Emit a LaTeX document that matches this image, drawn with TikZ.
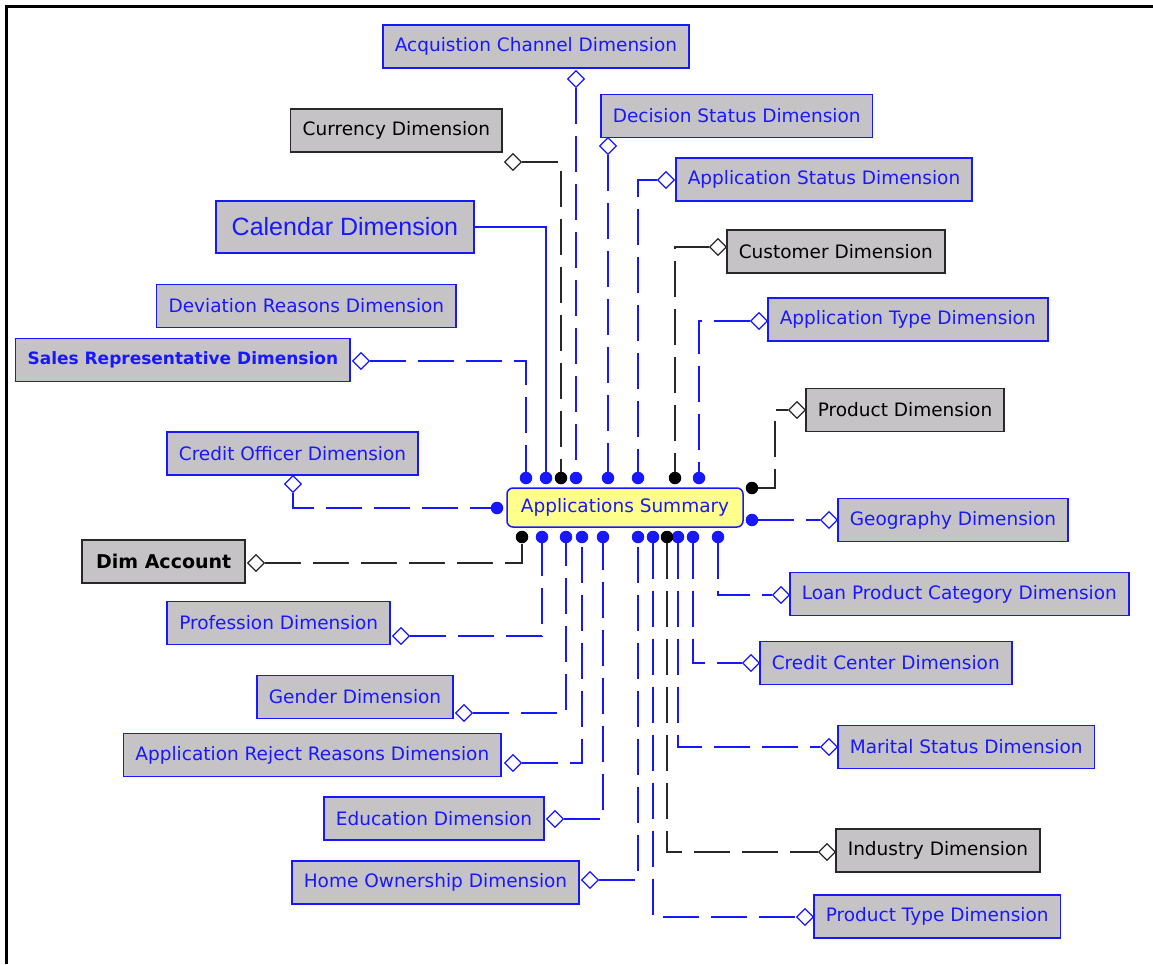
\documentclass[tikz,border=0pt]{standalone}
\usepackage{fontspec}
\setmainfont{DejaVu Sans}
\newfontfamily\calfont{Liberation Sans}
\usetikzlibrary{shapes.geometric}

\definecolor{erblue}{RGB}{24,24,255}
\definecolor{ergray}{RGB}{198,195,198}
\definecolor{eryellow}{RGB}{255,255,140}
\definecolor{erblack}{RGB}{40,40,40}

\newcommand{\dimsize}{\fontsize{18.5}{22}\selectfont}

\tikzset{
  dimbox/.style={draw=erblue, fill=ergray, text=erblue, line width=1.6pt,
    inner xsep=12pt, inner ysep=0pt, minimum height=43pt, font=\dimsize},
  blkbox/.style={dimbox, draw=erblack, text=black},
  factbox/.style={draw=erblue, fill=eryellow, text=erblue, line width=1.5pt,
    rounded corners=6pt, minimum width=236pt, minimum height=39pt, font=\dimsize},
  keydot/.style={circle, fill=erblue, inner sep=0pt, minimum size=12.5pt},
  bkeydot/.style={keydot, fill=black},
  fk/.style={diamond, draw=erblue, fill=white, line width=1.2pt, inner sep=0pt,
    minimum size=17pt},
  bfk/.style={fk, draw=erblack},
  link/.style={draw=erblue, line width=1.6pt, dash pattern=on 36pt off 12pt},
  blink/.style={link, draw=erblack},
}

\begin{document}
\begin{tikzpicture}[x=1pt,y=-1pt]
  \useasboundingbox (0,0) rectangle (1153,964);
  % frame
  \draw[line width=3.5pt] (6.5,964) -- (6.5,6.5) -- (1153,6.5);

  % fact table
  \node[factbox] (summary) at (625,507.5) {Applications Summary};

  % dimensions, right and top
  \node[dimbox, anchor=west] (acq) at (382,46.5) {Acquistion Channel Dimension};
  \node[dimbox, anchor=west] (dec) at (600,116) {Decision Status Dimension};
  \node[dimbox, anchor=west] (ast) at (675,179.5) {Application Status Dimension};
  \node[blkbox, anchor=west] (cus) at (726,251.5) {Customer Dimension};
  \node[dimbox, anchor=west] (aty) at (767,319.5) {Application Type Dimension};
  \node[blkbox, anchor=west] (pro) at (805,410) {Product Dimension};
  \node[dimbox, anchor=west] (geo) at (837,520) {Geography Dimension};
  \node[dimbox, anchor=west] (lpc) at (789,594) {Loan Product Category Dimension};
  \node[dimbox, anchor=west] (cc) at (759,663) {Credit Center Dimension};
  \node[dimbox, anchor=west] (mar) at (837,747) {Marital Status Dimension};
  \node[blkbox, anchor=west] (ind) at (835,850.5) {Industry Dimension};
  \node[dimbox, anchor=west] (pty) at (813,916.5) {Product Type Dimension};

  % dimensions, left
  \node[blkbox, anchor=east] (cur) at (503,130.5) {Currency Dimension};
  \node[dimbox, anchor=east, inner xsep=16pt, minimum height=52pt,
    font=\calfont\fontsize{25}{28}\selectfont] (cal) at (475,227) {Calendar Dimension};
  \node[dimbox, anchor=east] (dev) at (457,306) {Deviation Reasons Dimension};
  \node[dimbox, anchor=east, font=\fontsize{17}{20}\selectfont\bfseries] (sal) at (351,360)
    {Sales Representative Dimension};
  \node[dimbox, anchor=east] (co) at (419,453.5) {Credit Officer Dimension};
  \node[blkbox, anchor=east, inner xsep=14pt, font=\fontsize{19}{22}\selectfont\bfseries]
    (acc) at (246,561.5) {Dim Account};
  \node[dimbox, anchor=east] (prf) at (391,623) {Profession Dimension};
  \node[dimbox, anchor=east] (gen) at (454,697) {Gender Dimension};
  \node[dimbox, anchor=east] (rej) at (502,755) {Application Reject Reasons Dimension};
  \node[dimbox, anchor=east] (edu) at (545,818.5) {Education Dimension};
  \node[dimbox, anchor=east] (hom) at (580,882.5) {Home Ownership Dimension};

  % key dots on the fact table
  \foreach \n/\x in {T1/526, T2/546, T4/576, T5/608, T6/638, T8/699}
    \node[keydot] (p\n) at (\x,478) {};
  \foreach \n/\x in {T3/561, T7/675}
    \node[bkeydot] (p\n) at (\x,478) {};
  \foreach \n/\x in {B2/542, B3/566, B4/582, B5/603, B6/638, B7/653, B9/678, B10/693, B11/718}
    \node[keydot] (p\n) at (\x,537) {};
  \foreach \n/\x in {B1/522, B8/667}
    \node[bkeydot] (p\n) at (\x,537) {};
  \node[keydot] (pL) at (497,508) {};
  \node[bkeydot] (pR1) at (752,488) {};
  \node[keydot] (pR2) at (752,520) {};

  % foreign key ends
  \foreach \n/\x/\y in {Acq/576/79, Dec/608/146, Ast/666/180, Aty/759/321, Sal/361/361,
      Co/293/484, Geo/829/520, Lpc/781/595, Prf/401/636, Cc/751/663, Gen/464/713,
      Rej/513/763, Mar/829/747, Edu/555/819, Hom/590/880, Pty/805/917}
    \node[fk] (d\n) at (\x,\y) {};
  \foreach \n/\x/\y in {Cur/513/162, Cus/718/247, Pro/797/410, Acc/256/563, Ind/827/852}
    \node[bfk] (d\n) at (\x,\y) {};
  \coordinate (kPro) at (775,450);

  % relationships
  \draw[link] (dAcq) -- (pT4);
  \draw[link] (dDec) -- (pT5);
  \draw[blink] (dCur) -| (pT3);
  \draw[link] (dAst) -| (pT6);
  \draw[blink] (dCus) -| (pT7);
  \draw[link] (dAty) -| (pT8);
  \draw[link] (dSal) -| (pT1);
  \draw[link, solid] (cal) -| (pT2);
  \draw[link] (dCo) |- (pL);
  \draw[blink] (pR1) -| (kPro) |- (dPro);
  \draw[link] (pR2) -- (dGeo);
  \draw[blink] (dAcc) -| (pB1);
  \draw[link] (dPrf) -| (pB2);
  \draw[link] (dGen) -| (pB3);
  \draw[link] (dRej) -| (pB4);
  \draw[link] (dEdu) -| (pB5);
  \draw[link] (dHom) -| (pB6);
  \draw[link] (pB7) |- (dPty);
  \draw[blink] (pB8) |- (dInd);
  \draw[link] (pB9) |- (dMar);
  \draw[link] (pB10) |- (dCc);
  \draw[link] (pB11) |- (dLpc);
\end{tikzpicture}
\end{document}
